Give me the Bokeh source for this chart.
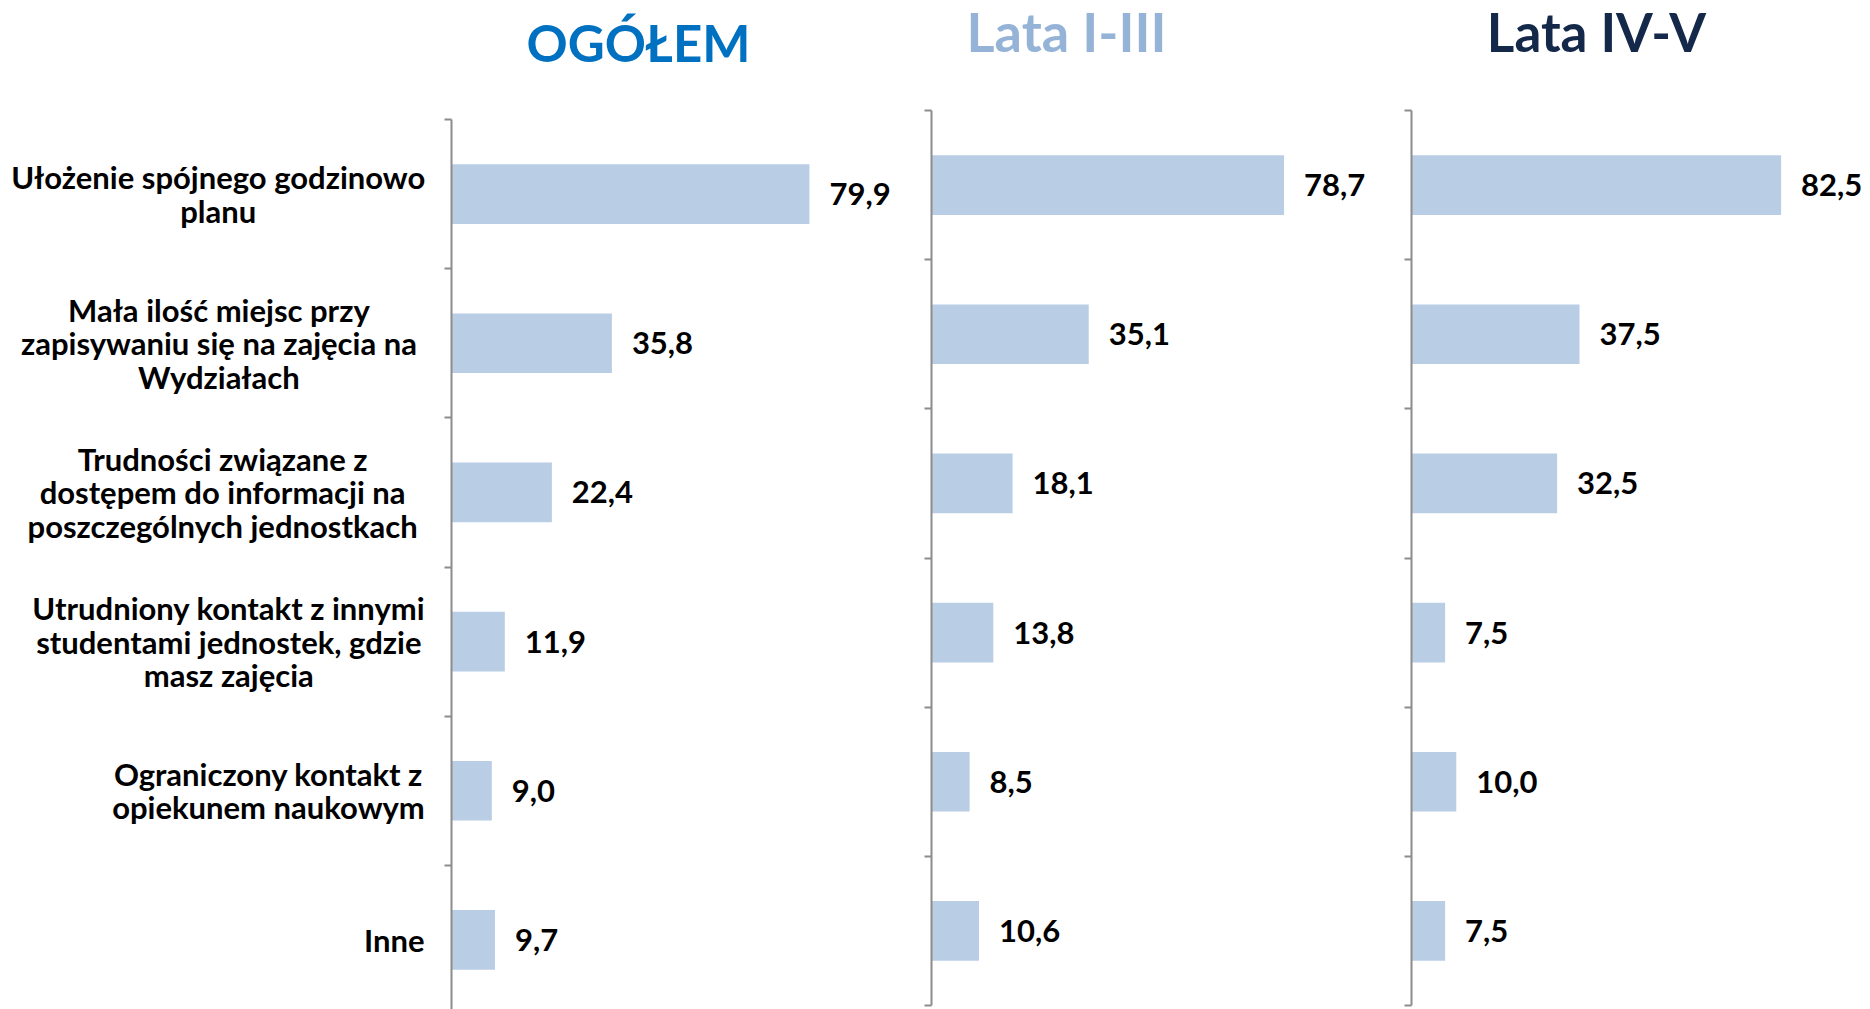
from bokeh.plotting import figure
from bokeh.layouts import row
from bokeh.models import Range1d, LinearAxis, FixedTicker, ColumnDataSource
from bokeh.embed import file_html
from bokeh.resources import INLINE
from bokeh.core.properties import value

# ---------------- data ----------------
categories = [
    "Ułożenie spójnego godzinowo\nplanu",
    "Mała ilość miejsc przy\nzapisywaniu się na zajęcia na\nWydziałach",
    "Trudności związane z\ndostępem do informacji na\nposzczególnych jednostkach",
    "Utrudniony kontakt z innymi\nstudentami jednostek, gdzie\nmasz zajęcia",
    "Ograniczony kontakt z\nopiekunem naukowym",
    "Inne",
]
ogolem = [79.9, 35.8, 22.4, 11.9, 9.0, 9.7]
lata_1_3 = [78.7, 35.1, 18.1, 13.8, 8.5, 10.6]
lata_4_5 = [82.5, 37.5, 32.5, 7.5, 10.0, 7.5]
panel_titles = ["OGÓŁEM", "Lata I-III", "Lata IV-V"]

# ---------------- style / layout ----------------
FONT = "Lato"
BAR_COLOR = "#B9CDE5"
AXIS_COLOR = "#8C8C8C"
TITLE_COLORS = ["#0070C0", "#95B3D7", "#14284A"]
LABEL_SIZE = 31
VALUE_SIZE = 31
TITLE_SIZE = [51, 54, 53]
LABEL_GAP = 28          # pixels between category labels and the axis
PX_PER_UNIT = 4.48      # pixels per percentage point
BAND = 895 / 6          # pixels per category band
FIG_H = 1009


def est_width(text, size):
    w = 0.0
    for ch in text:
        if ch in "ijlIł":
            w += 0.26
        elif ch in "ftr":
            w += 0.36
        elif ch == " ":
            w += 0.2
        elif ch in ",.-":
            w += 0.28
        elif ch in "mwMW":
            w += 0.84
        elif ch.isupper():
            w += 0.7
        else:
            w += 0.54
    return w * size


def fmt(v):
    return f"{v:.1f}".replace(".", ",")


def make_panel(idx, vals, width, axis_px, top_px, title_dx_px, title_dy_px, show_labels):
    n = len(vals)
    pos = [i + 0.5 for i in range(n)]
    y_top = -top_px / BAND
    y_bottom = (FIG_H - top_px) / BAND
    p = figure(
        width=width, height=FIG_H, output_backend="svg", toolbar_location=None,
        x_range=Range1d(-axis_px / PX_PER_UNIT, (width - axis_px) / PX_PER_UNIT),
        y_range=Range1d(y_bottom, y_top),
        min_border_left=0, min_border_right=0, min_border_top=0, min_border_bottom=0,
        x_axis_location=None, y_axis_location=None,
        outline_line_color=None, background_fill_color="white",
        border_fill_color="white",
    )
    p.xgrid.visible = False
    p.ygrid.visible = False

    src = ColumnDataSource(dict(y=pos, v=vals, lab=[fmt(v) for v in vals]))
    p.hbar(y="y", left=0, right="v", height=0.4, source=src,
           fill_color=BAR_COLOR, line_color=None)
    p.text(x="v", y="y", text="lab", source=src, x_offset=20,
           text_align="left", text_baseline="middle",
           text_font=value(FONT), text_font_style="bold",
           text_font_size=f"{VALUE_SIZE}px", text_color="black")

    if show_labels:
        offs = [-(LABEL_GAP + max(est_width(l, LABEL_SIZE) for l in c.split("\n")) / 2)
                for c in categories]
        lsrc = ColumnDataSource(dict(y=pos, t=categories, xo=offs, x0=[0] * n))
        p.text(x="x0", y="y", text="t", x_offset="xo", source=lsrc,
               text_align="center", text_baseline="middle",
               text_line_height=0.88,
               text_font=value(FONT), text_font_style="bold",
               text_font_size=f"{LABEL_SIZE}px", text_color="black")

    ax = LinearAxis(fixed_location=0, ticker=FixedTicker(ticks=list(range(n + 1))),
                    bounds=(0, n),
                    major_tick_out=7, major_tick_in=0,
                    axis_line_color=AXIS_COLOR, axis_line_width=2,
                    major_tick_line_color=AXIS_COLOR, major_tick_line_width=2)
    ax.major_label_overrides = {i: "" for i in range(n + 1)}
    p.add_layout(ax, "left")

    # panel heading, placed above the first band
    p.text(x=[title_dx_px / PX_PER_UNIT], y=[title_dy_px / BAND], text=[panel_titles[idx]],
           text_align="center", text_baseline="alphabetic",
           text_font=value(FONT), text_font_style="bold",
           text_font_size=f"{TITLE_SIZE[idx]}px", text_color=TITLE_COLORS[idx])
    return p


p1 = make_panel(0, ogolem, 910, 451, 119, 187, -77, True)
p2 = make_panel(1, lata_1_3, 480, 21, 110, 135, -79, False)
p3 = make_panel(2, lata_4_5, 480, 21, 110, 185, -79, False)

layout = row(p1, p2, p3, spacing=0)
open("out.html", "w").write(file_html(layout, INLINE))
